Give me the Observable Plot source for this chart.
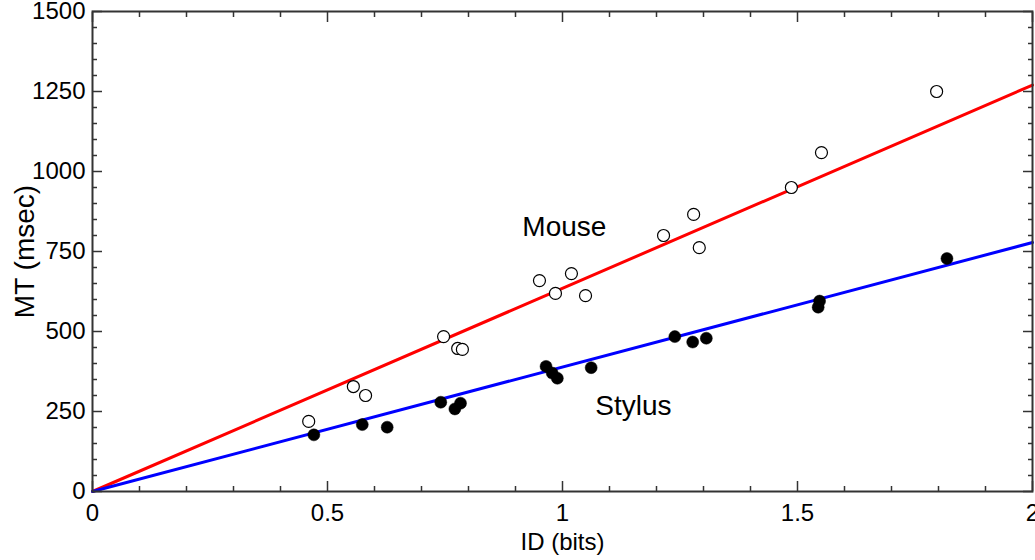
<!DOCTYPE html>
<html><head><meta charset="utf-8">
<script src="https://cdn.jsdelivr.net/npm/d3@7"></script>
<script src="https://cdn.jsdelivr.net/npm/@observablehq/plot@0.6"></script>
<style>html,body{margin:0;padding:0;background:#fff;overflow:hidden}</style>
</head><body><div id="chart"></div>
<script>
// Data
const mouseID = [0.460, 0.555, 0.581, 0.747, 0.777, 0.787, 0.951, 0.985, 1.019, 1.049, 1.215, 1.279, 1.291, 1.487, 1.551, 1.796];
const mouseMT = [219, 328, 300, 484, 447, 444, 659, 619, 681, 612, 800, 866, 762, 950, 1059, 1250];
const stylusID = [0.471, 0.574, 0.627, 0.741, 0.771, 0.783, 0.965, 0.978, 0.989, 1.061, 1.239, 1.277, 1.306, 1.544, 1.547, 1.818];
const stylusMT = [177, 209, 201, 279, 258, 276, 391, 370, 354, 387, 484, 467, 479, 576, 595, 728];
const mouseSlope = 635;
const stylusSlope = 389;
const fitID = [0, 2];
const seriesNames = ["Mouse", "Stylus"];
const labelID = [1.004, 1.151];
const labelMT = [825, 266];
const xMajor = [0, 0.5, 1, 1.5, 2];
const xTickLabels = ["0", "0.5", "1", "1.5", "2"];
const xMinor = [0.1,0.2,0.3,0.4,0.6,0.7,0.8,0.9,1.1,1.2,1.3,1.4,1.6,1.7,1.8,1.9];
const yMajor = [0, 250, 500, 750, 1000, 1250, 1500];
const yTickLabels = ["0", "250", "500", "750", "1000", "1250", "1500"];
const yMinor = [50,100,150,200,300,350,400,450,550,600,650,700,800,850,900,950,1050,1100,1150,1200,1300,1350,1400,1450];
const xTitle = "ID (bits)";
const yTitle = "MT (msec)";

const axisColor = "#333";
const tickMarks = [];
for (const anchor of ["bottom", "top"]) {
  tickMarks.push(Plot.axisX(xMinor, {anchor, tickSize: -5, tickFormat: () => "", stroke: axisColor, strokeWidth: 1.5, label: null}));
  tickMarks.push(Plot.axisX(xMajor, {anchor, tickSize: -10, tickFormat: () => "", stroke: axisColor, strokeWidth: 1.5, label: null}));
}
for (const anchor of ["left", "right"]) {
  tickMarks.push(Plot.axisY(yMinor, {anchor, tickSize: -5, tickFormat: () => "", stroke: axisColor, strokeWidth: 1.5, label: null}));
  tickMarks.push(Plot.axisY(yMajor, {anchor, tickSize: -10, tickFormat: () => "", stroke: axisColor, strokeWidth: 1.5, label: null}));
}

const chart = Plot.plot({
  width: 1035, height: 560,
  marginLeft: 92, marginRight: 3, marginTop: 11, marginBottom: 69,
  style: {fontFamily: '"Liberation Sans", Arial, sans-serif', fontSize: "24px", background: "#fff", color: "#000", overflow: "visible"},
  x: {domain: [0, 2]},
  y: {domain: [0, 1500]},
  marks: [
    Plot.line(fitID, {x: d => d, y: d => d * mouseSlope, stroke: "#ff0000", strokeWidth: 3}),
    Plot.line(fitID, {x: d => d, y: d => d * stylusSlope, stroke: "#0000ff", strokeWidth: 3}),
    Plot.dot(stylusID, {x: d => d, y: (d, i) => stylusMT[i], r: 6, fill: "#000", stroke: "#000", strokeWidth: 0.5}),
    Plot.dot(mouseID, {x: d => d, y: (d, i) => mouseMT[i], r: 6, fill: "#fff", stroke: "#000", strokeWidth: 1.2}),
    Plot.text(seriesNames, {x: (d, i) => labelID[i], y: (d, i) => labelMT[i], text: d => d, fontSize: 28, fill: "#000"}),
    Plot.frame({stroke: axisColor, strokeWidth: 2}),
    ...tickMarks,
    Plot.axisX(xMajor, {anchor: "bottom", tickSize: 0, tickPadding: 12, tickFormat: (d, i) => xTickLabels[i], fontSize: 24, label: null}),
    Plot.axisY(yMajor, {anchor: "left", tickSize: 0, tickPadding: 7, tickFormat: (d, i) => yTickLabels[i], fontSize: 24, label: null}),
    Plot.text([xTitle], {frameAnchor: "bottom", text: d => d, dy: 51, lineAnchor: "middle", textAnchor: "middle", fontSize: 24}),
    Plot.text([yTitle], {frameAnchor: "left", text: d => d, dx: -67, rotate: -90, textAnchor: "middle", lineAnchor: "middle", fontSize: 28})
  ]
});
document.getElementById("chart").appendChild(chart);
</script>
</body></html>
